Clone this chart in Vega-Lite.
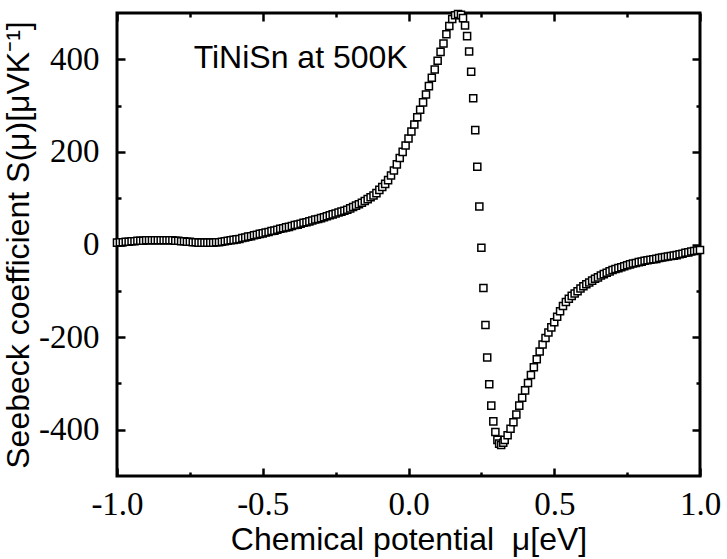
{
  "$schema": "https://vega.github.io/schema/vega-lite/v6.json",
  "width": 583,
  "height": 463,
  "autosize": "none",
  "padding": {"left": 117, "top": 13, "right": 27, "bottom": 83},
  "background": "white",
  "config": {
    "view": {"stroke": "black", "strokeWidth": 3},
    "axis": {
      "domain": false,
      "tickColor": "black",
      "tickWidth": 2.5,
      "grid": false,
      "labelFont": "Liberation Serif",
      "labelFontSize": 33,
      "labelColor": "black",
      "titleFont": "Liberation Sans",
      "titleFontSize": 32,
      "titleFontWeight": "normal",
      "titleColor": "black"
    }
  },
  "data": {
    "values": [
      {"mu": -1.00, "S": 4}, {"mu": -0.99, "S": 5}, {"mu": -0.98, "S": 5}, {"mu": -0.97, "S": 6}, {"mu": -0.96, "S": 6},
      {"mu": -0.95, "S": 7}, {"mu": -0.94, "S": 7}, {"mu": -0.93, "S": 8}, {"mu": -0.92, "S": 8}, {"mu": -0.91, "S": 8},
      {"mu": -0.90, "S": 9}, {"mu": -0.89, "S": 9}, {"mu": -0.88, "S": 9}, {"mu": -0.87, "S": 9}, {"mu": -0.86, "S": 9},
      {"mu": -0.85, "S": 9}, {"mu": -0.84, "S": 9}, {"mu": -0.83, "S": 9}, {"mu": -0.82, "S": 9}, {"mu": -0.81, "S": 9},
      {"mu": -0.80, "S": 8}, {"mu": -0.79, "S": 8}, {"mu": -0.78, "S": 7}, {"mu": -0.77, "S": 7}, {"mu": -0.76, "S": 6},
      {"mu": -0.75, "S": 6}, {"mu": -0.74, "S": 5}, {"mu": -0.73, "S": 5}, {"mu": -0.72, "S": 4}, {"mu": -0.71, "S": 4},
      {"mu": -0.70, "S": 4}, {"mu": -0.69, "S": 4}, {"mu": -0.68, "S": 4}, {"mu": -0.67, "S": 4}, {"mu": -0.66, "S": 5},
      {"mu": -0.65, "S": 5}, {"mu": -0.64, "S": 6}, {"mu": -0.63, "S": 7}, {"mu": -0.62, "S": 8}, {"mu": -0.61, "S": 9},
      {"mu": -0.60, "S": 10}, {"mu": -0.59, "S": 11}, {"mu": -0.58, "S": 12}, {"mu": -0.57, "S": 14}, {"mu": -0.56, "S": 15},
      {"mu": -0.55, "S": 17}, {"mu": -0.54, "S": 18}, {"mu": -0.53, "S": 20}, {"mu": -0.52, "S": 21}, {"mu": -0.51, "S": 23},
      {"mu": -0.50, "S": 24}, {"mu": -0.49, "S": 26}, {"mu": -0.48, "S": 27}, {"mu": -0.47, "S": 29}, {"mu": -0.46, "S": 30},
      {"mu": -0.45, "S": 32}, {"mu": -0.44, "S": 34}, {"mu": -0.43, "S": 35}, {"mu": -0.42, "S": 37}, {"mu": -0.41, "S": 38},
      {"mu": -0.40, "S": 40}, {"mu": -0.39, "S": 42}, {"mu": -0.38, "S": 43}, {"mu": -0.37, "S": 45}, {"mu": -0.36, "S": 47},
      {"mu": -0.35, "S": 48}, {"mu": -0.34, "S": 50}, {"mu": -0.33, "S": 52}, {"mu": -0.32, "S": 54}, {"mu": -0.31, "S": 55},
      {"mu": -0.30, "S": 57}, {"mu": -0.29, "S": 59}, {"mu": -0.28, "S": 61}, {"mu": -0.27, "S": 63}, {"mu": -0.26, "S": 65},
      {"mu": -0.25, "S": 67}, {"mu": -0.24, "S": 69}, {"mu": -0.23, "S": 71}, {"mu": -0.22, "S": 73}, {"mu": -0.21, "S": 75},
      {"mu": -0.20, "S": 78}, {"mu": -0.19, "S": 81}, {"mu": -0.18, "S": 84}, {"mu": -0.17, "S": 87}, {"mu": -0.16, "S": 90},
      {"mu": -0.15, "S": 94}, {"mu": -0.14, "S": 98}, {"mu": -0.13, "S": 102}, {"mu": -0.12, "S": 106}, {"mu": -0.11, "S": 111},
      {"mu": -0.10, "S": 118}, {"mu": -0.09, "S": 124}, {"mu": -0.08, "S": 131}, {"mu": -0.07, "S": 139}, {"mu": -0.06, "S": 149},
      {"mu": -0.05, "S": 160}, {"mu": -0.04, "S": 173}, {"mu": -0.03, "S": 187}, {"mu": -0.02, "S": 200}, {"mu": -0.01, "S": 214},
      {"mu": 0.00, "S": 229}, {"mu": 0.01, "S": 244}, {"mu": 0.02, "S": 259}, {"mu": 0.03, "S": 275}, {"mu": 0.04, "S": 291},
      {"mu": 0.05, "S": 307}, {"mu": 0.06, "S": 324}, {"mu": 0.07, "S": 342}, {"mu": 0.08, "S": 360}, {"mu": 0.09, "S": 378},
      {"mu": 0.10, "S": 397}, {"mu": 0.11, "S": 416}, {"mu": 0.12, "S": 434}, {"mu": 0.13, "S": 454}, {"mu": 0.14, "S": 472},
      {"mu": 0.15, "S": 487}, {"mu": 0.16, "S": 495}, {"mu": 0.17, "S": 498}, {"mu": 0.18, "S": 496},
      {"mu": 0.187, "S": 489}, {"mu": 0.194, "S": 473}, {"mu": 0.201, "S": 450}, {"mu": 0.208, "S": 417}, {"mu": 0.215, "S": 373},
      {"mu": 0.222, "S": 316}, {"mu": 0.229, "S": 247}, {"mu": 0.236, "S": 168}, {"mu": 0.243, "S": 82}, {"mu": 0.250, "S": -7},
      {"mu": 0.257, "S": -94}, {"mu": 0.264, "S": -174}, {"mu": 0.270, "S": -244}, {"mu": 0.277, "S": -302}, {"mu": 0.284, "S": -348},
      {"mu": 0.291, "S": -382}, {"mu": 0.298, "S": -405}, {"mu": 0.305, "S": -422}, {"mu": 0.311, "S": -430}, {"mu": 0.318, "S": -433},
      {"mu": 0.325, "S": -428},
      {"mu": 0.33, "S": -422}, {"mu": 0.34, "S": -412}, {"mu": 0.35, "S": -398}, {"mu": 0.36, "S": -384}, {"mu": 0.37, "S": -367},
      {"mu": 0.38, "S": -348}, {"mu": 0.39, "S": -331}, {"mu": 0.40, "S": -315}, {"mu": 0.41, "S": -299}, {"mu": 0.42, "S": -282},
      {"mu": 0.43, "S": -265}, {"mu": 0.44, "S": -248}, {"mu": 0.45, "S": -231}, {"mu": 0.46, "S": -216}, {"mu": 0.47, "S": -202},
      {"mu": 0.48, "S": -190}, {"mu": 0.49, "S": -179}, {"mu": 0.50, "S": -168}, {"mu": 0.51, "S": -156}, {"mu": 0.52, "S": -144},
      {"mu": 0.53, "S": -133}, {"mu": 0.54, "S": -124}, {"mu": 0.55, "S": -117}, {"mu": 0.56, "S": -111}, {"mu": 0.57, "S": -106},
      {"mu": 0.58, "S": -101}, {"mu": 0.59, "S": -95}, {"mu": 0.60, "S": -90}, {"mu": 0.61, "S": -86}, {"mu": 0.62, "S": -82},
      {"mu": 0.63, "S": -78}, {"mu": 0.64, "S": -74}, {"mu": 0.65, "S": -71}, {"mu": 0.66, "S": -67}, {"mu": 0.67, "S": -64},
      {"mu": 0.68, "S": -61}, {"mu": 0.69, "S": -58}, {"mu": 0.70, "S": -55}, {"mu": 0.71, "S": -53}, {"mu": 0.72, "S": -51},
      {"mu": 0.73, "S": -49}, {"mu": 0.74, "S": -47}, {"mu": 0.75, "S": -45}, {"mu": 0.76, "S": -43}, {"mu": 0.77, "S": -41},
      {"mu": 0.78, "S": -40}, {"mu": 0.79, "S": -38}, {"mu": 0.80, "S": -37}, {"mu": 0.81, "S": -35}, {"mu": 0.82, "S": -34},
      {"mu": 0.83, "S": -33}, {"mu": 0.84, "S": -32}, {"mu": 0.85, "S": -31}, {"mu": 0.86, "S": -29}, {"mu": 0.87, "S": -28},
      {"mu": 0.88, "S": -27}, {"mu": 0.89, "S": -26}, {"mu": 0.90, "S": -25}, {"mu": 0.91, "S": -24}, {"mu": 0.92, "S": -23},
      {"mu": 0.93, "S": -21}, {"mu": 0.94, "S": -20}, {"mu": 0.95, "S": -18}, {"mu": 0.96, "S": -17}, {"mu": 0.97, "S": -15},
      {"mu": 0.98, "S": -14}, {"mu": 0.99, "S": -13}, {"mu": 1.00, "S": -12}
    ]
  },
  "resolve": {"axis": {"x": "independent", "y": "independent"}},
  "layer": [
    {
      "mark": {"type": "point", "opacity": 0},
      "encoding": {
        "x": {
          "field": "mu", "type": "quantitative",
          "scale": {"domain": [-1, 1], "nice": false, "zero": false},
          "axis": {"orient": "bottom", "values": [-0.75, -0.25, 0.25, 0.75], "labels": false, "offset": -4, "tickSize": 4, "title": null}
        },
        "y": {
          "field": "S", "type": "quantitative",
          "scale": {"domain": [-500, 500], "nice": false, "zero": false},
          "axis": {"orient": "left", "values": [-300, -100, 100, 300], "labels": false, "offset": -4, "tickSize": 4, "title": null}
        }
      }
    },
    {
      "mark": {"type": "point", "opacity": 0},
      "encoding": {
        "x": {
          "field": "mu", "type": "quantitative",
          "axis": {"orient": "top", "values": [-0.75, -0.25, 0.25, 0.75], "labels": false, "offset": -4, "tickSize": 4, "title": null}
        },
        "y": {
          "field": "S", "type": "quantitative",
          "axis": {"orient": "right", "values": [-300, -100, 100, 300], "labels": false, "offset": -4, "tickSize": 4, "title": null}
        }
      }
    },
    {
      "mark": {"type": "point", "opacity": 0},
      "encoding": {
        "x": {
          "field": "mu", "type": "quantitative",
          "axis": {"orient": "top", "values": [-1, -0.5, 0, 0.5, 1], "labels": false, "offset": -8, "tickSize": 8, "title": null}
        },
        "y": {
          "field": "S", "type": "quantitative",
          "axis": {"orient": "right", "values": [-400, -200, 0, 200, 400], "labels": false, "offset": -8, "tickSize": 8, "title": null}
        }
      }
    },
    {
      "mark": {"type": "point", "shape": "square", "size": 50, "filled": false, "fill": "white", "fillOpacity": 1, "stroke": "black", "strokeWidth": 1.5, "opacity": 1},
      "encoding": {
        "x": {
          "field": "mu", "type": "quantitative",
          "axis": {
            "orient": "bottom",
            "values": [-1, -0.5, 0, 0.5, 1],
            "labelExpr": "(datum.value < 0 ? '-' : '') + format(abs(datum.value), '.1f')",
            "offset": -8,
            "tickSize": 8,
            "labelPadding": 12,
            "labelFlush": false,
            "labelOverlap": false,
            "title": "Chemical potential\u00a0 μ[eV]",
            "titlePadding": 3
          }
        },
        "y": {
          "field": "S", "type": "quantitative",
          "axis": {
            "orient": "left",
            "values": [-400, -200, 0, 200, 400],
            "labelExpr": "(datum.value < 0 ? '-' : '') + abs(datum.value)",
            "offset": -8,
            "tickSize": 8,
            "labelPadding": 18,
            "labelFlush": false,
            "labelOverlap": false,
            "title": "Seebeck coefficient S(μ)[μVK⁻¹]",
            "titlePadding": 3
          }
        }
      }
    },
    {
      "data": {"values": [{"label": "TiNiSn at 500K"}]},
      "mark": {"type": "text", "font": "Liberation Sans", "fontSize": 32, "color": "black", "align": "center", "baseline": "middle"},
      "encoding": {
        "x": {"datum": -0.37, "type": "quantitative", "axis": null},
        "y": {"datum": 402, "type": "quantitative", "axis": null},
        "text": {"field": "label", "type": "nominal"}
      }
    }
  ]
}
